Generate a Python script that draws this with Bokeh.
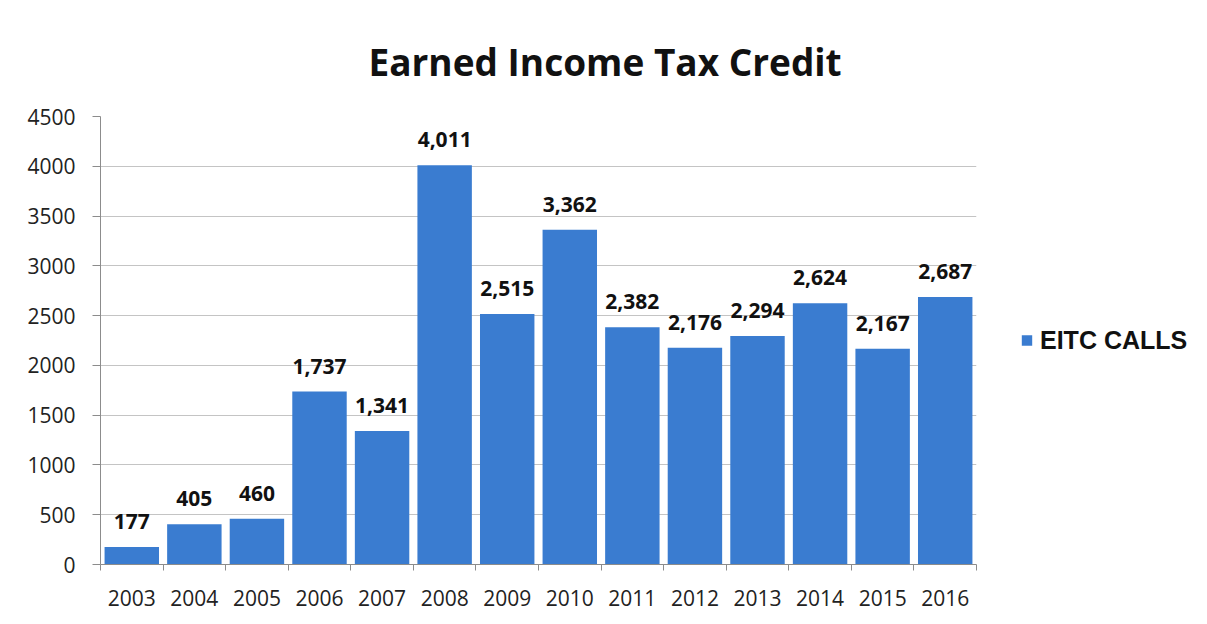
from bokeh.plotting import figure
from bokeh.models import ColumnDataSource, LabelSet, Legend, LegendItem, FixedTicker, Range1d, Title
from bokeh.core.properties import value
from bokeh.embed import file_html
from bokeh.resources import INLINE

years = [2003, 2004, 2005, 2006, 2007, 2008, 2009, 2010, 2011, 2012, 2013, 2014, 2015, 2016]
calls = [177, 405, 460, 1737, 1341, 4011, 2515, 3362, 2382, 2176, 2294, 2624, 2167, 2687]
y_ticks = [0, 500, 1000, 1500, 2000, 2500, 3000, 3500, 4000, 4500]
title_text = "Earned Income Tax Credit"
series_name = "EITC CALLS"

BAR = "#3a7cd0"
FONT = "Open Sans"

src = ColumnDataSource(dict(x=years, top=calls, label=[f"{v:,}" for v in calls]))

p = figure(frame_width=876, frame_height=448, output_backend="svg", toolbar_location=None,
           x_range=Range1d(years[0] - 0.5, years[-1] + 0.5), y_range=Range1d(0, 4500),
           min_border_left=100, min_border_right=10, min_border_top=116, min_border_bottom=60)
p.outline_line_color = None
p.background_fill_color = "white"
p.border_fill_color = "white"

r = p.vbar(x="x", top="top", width=0.87, source=src, fill_color=BAR, line_color=None)

p.add_layout(LabelSet(x="x", y="top", text="label", source=src, text_align="center",
                      text_baseline="bottom", y_offset=18, text_font=value(FONT),
                      text_font_style="bold", text_font_size="21px", text_color="#111111"))

# axes
p.xaxis.ticker = FixedTicker(ticks=years, minor_ticks=[y - 0.5 for y in years] + [years[-1] + 0.5])
p.xaxis.major_tick_line_color = None
p.xaxis.minor_tick_in = 0
p.xaxis.minor_tick_out = 6
p.xaxis.minor_tick_line_color = "#8c8c8c"
p.xaxis.axis_line_color = "#8c8c8c"
p.xaxis.major_label_text_font = FONT
p.xaxis.major_label_text_font_size = "21px"
p.xaxis.major_label_text_color = "#222222"
p.xaxis.major_label_standoff = 19

p.yaxis.ticker = FixedTicker(ticks=y_ticks, minor_ticks=[])
p.yaxis.major_tick_in = 0
p.yaxis.major_tick_out = 8
p.yaxis.major_tick_line_color = "#8c8c8c"
p.yaxis.axis_line_color = "#8c8c8c"
p.yaxis.minor_tick_line_color = None
p.yaxis.major_label_text_font = FONT
p.yaxis.major_label_text_font_size = "21px"
p.yaxis.major_label_text_color = "#222222"
p.yaxis.major_label_standoff = 17

p.xgrid.grid_line_color = None
p.ygrid.grid_line_color = "#c4c4c4"
p.ygrid.grid_line_width = 1

p.add_layout(Title(text=title_text, align="left", text_font=FONT, text_font_style="bold",
                   text_font_size="37px", text_color="#111111", offset=268, standoff=60), "above")

legend = Legend(items=[LegendItem(label=series_name, renderers=[r])],
                location="left", border_line_color=None, background_fill_alpha=0,
                label_text_font="Liberation Sans", label_text_font_style="bold",
                label_text_font_size="25px", label_text_color="#111111",
                glyph_width=13, glyph_height=13, label_standoff=7, padding=0, margin=44)
p.add_layout(legend, "right")

open("out.html", "w").write(file_html(p, INLINE))
